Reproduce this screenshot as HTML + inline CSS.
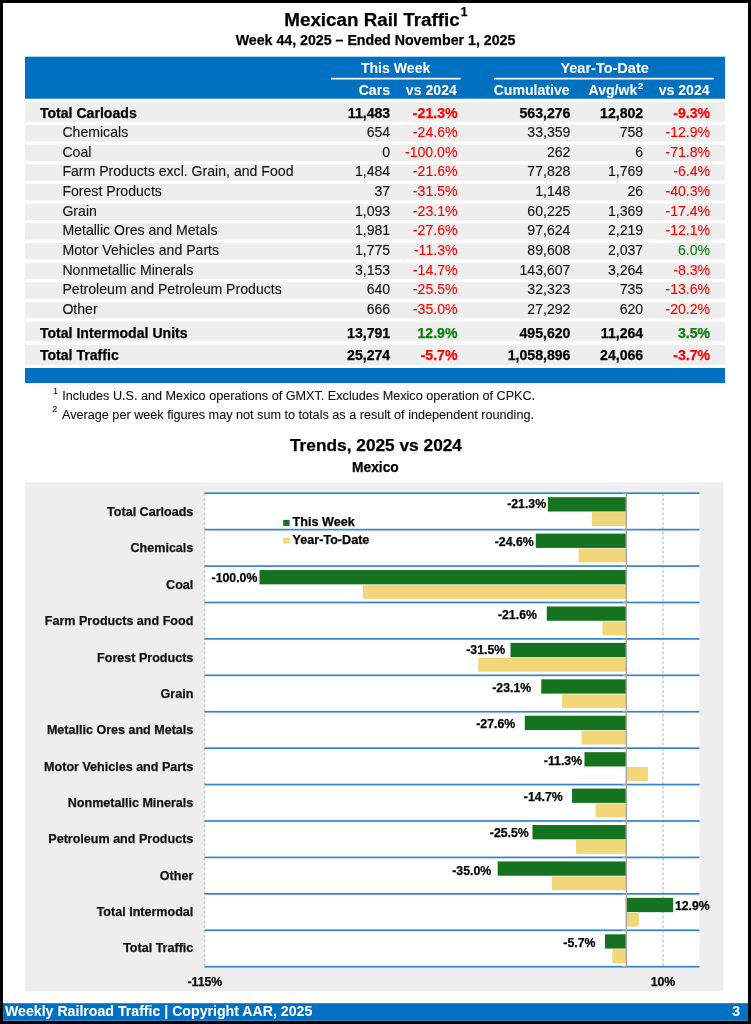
<!DOCTYPE html>
<html><head><meta charset="utf-8"><title>Mexican Rail Traffic</title>
<style>
html,body{margin:0;padding:0;background:#fff;}
body{width:751px;height:1024px;position:relative;overflow:hidden;font-family:"Liberation Sans",sans-serif;}
.t{position:absolute;white-space:nowrap;-webkit-text-stroke:0.1px currentColor;}
.b{font-weight:bold;-webkit-text-stroke:0.25px currentColor;}
.w{-webkit-text-stroke:0.05px currentColor;}
.wrap{position:absolute;left:0;top:0;width:751px;height:1024px;will-change:transform;}
.sv{position:absolute;left:0;top:0;}
.page{position:absolute;left:0;top:0;width:751px;height:1024px;}
.s1{font-size:12px;vertical-align:0;position:relative;top:-9.6px;line-height:0;margin-left:1px;}
.s2{font-size:9.5px;vertical-align:0;position:relative;top:-6px;line-height:0;margin-left:0.6px;}
.frame{position:absolute;left:0;top:0;width:751px;height:1024px;box-sizing:border-box;border:3px solid #000;pointer-events:none;}
</style></head><body>
<div class="page">
<svg class="sv" width="751" height="1024" viewBox="0 0 751 1024"><rect x="25.00" y="56.70" width="700.00" height="42.00" fill="#0070C0"/>
<rect x="331.00" y="77.80" width="129.60" height="1.70" fill="#fff"/>
<rect x="494.00" y="77.80" width="219.70" height="1.70" fill="#fff"/>
<rect x="25.00" y="102.00" width="700.00" height="19.80" fill="#EEEEEE"/>
<rect x="25.00" y="125.00" width="700.00" height="16.40" fill="#EEEEEE"/>
<rect x="25.00" y="144.66" width="700.00" height="16.40" fill="#EEEEEE"/>
<rect x="25.00" y="164.32" width="700.00" height="16.40" fill="#EEEEEE"/>
<rect x="25.00" y="183.98" width="700.00" height="16.40" fill="#EEEEEE"/>
<rect x="25.00" y="203.64" width="700.00" height="16.40" fill="#EEEEEE"/>
<rect x="25.00" y="223.30" width="700.00" height="16.40" fill="#EEEEEE"/>
<rect x="25.00" y="242.96" width="700.00" height="16.40" fill="#EEEEEE"/>
<rect x="25.00" y="262.62" width="700.00" height="16.40" fill="#EEEEEE"/>
<rect x="25.00" y="282.28" width="700.00" height="16.40" fill="#EEEEEE"/>
<rect x="25.00" y="301.94" width="700.00" height="16.40" fill="#EEEEEE"/>
<rect x="25.00" y="321.70" width="700.00" height="19.50" fill="#EEEEEE"/>
<rect x="25.00" y="344.90" width="700.00" height="20.00" fill="#EEEEEE"/>
<rect x="25.00" y="368.00" width="700.00" height="15.00" fill="#0070C0"/>
<rect x="25.00" y="482.40" width="698.60" height="509.20" fill="#EEEEEE"/>
<rect x="204.50" y="493.20" width="495.00" height="473.50" fill="#fff"/>
<line x1="204.50" y1="493.20" x2="204.50" y2="966.70" stroke="#cdcdcd" stroke-width="1.6" stroke-dasharray="2.8 2"/>
<line x1="662.94" y1="493.20" x2="662.94" y2="966.70" stroke="#cdcdcd" stroke-width="1.6" stroke-dasharray="2.8 2"/>
<rect x="547.86" y="497.20" width="78.04" height="14.30" fill="#15721F"/>
<rect x="591.82" y="512.10" width="34.08" height="13.90" fill="#F2D67A"/>
<rect x="535.77" y="533.62" width="90.13" height="14.30" fill="#15721F"/>
<rect x="578.63" y="548.52" width="47.27" height="13.90" fill="#F2D67A"/>
<rect x="259.50" y="570.05" width="366.40" height="14.30" fill="#15721F"/>
<rect x="362.82" y="584.95" width="263.08" height="13.90" fill="#F2D67A"/>
<rect x="546.76" y="606.47" width="79.14" height="14.30" fill="#15721F"/>
<rect x="602.45" y="621.37" width="23.45" height="13.90" fill="#F2D67A"/>
<rect x="510.48" y="642.89" width="115.42" height="14.30" fill="#15721F"/>
<rect x="478.24" y="657.79" width="147.66" height="13.90" fill="#F2D67A"/>
<rect x="541.26" y="679.32" width="84.64" height="14.30" fill="#15721F"/>
<rect x="562.15" y="694.22" width="63.75" height="13.90" fill="#F2D67A"/>
<rect x="524.77" y="715.74" width="101.13" height="14.30" fill="#15721F"/>
<rect x="581.57" y="730.64" width="44.33" height="13.90" fill="#F2D67A"/>
<rect x="584.50" y="752.16" width="41.40" height="14.30" fill="#15721F"/>
<rect x="625.90" y="767.06" width="21.98" height="13.90" fill="#F2D67A"/>
<rect x="572.04" y="788.58" width="53.86" height="14.30" fill="#15721F"/>
<rect x="595.49" y="803.48" width="30.41" height="13.90" fill="#F2D67A"/>
<rect x="532.47" y="825.01" width="93.43" height="14.30" fill="#15721F"/>
<rect x="576.07" y="839.91" width="49.83" height="13.90" fill="#F2D67A"/>
<rect x="497.66" y="861.43" width="128.24" height="14.30" fill="#15721F"/>
<rect x="551.89" y="876.33" width="74.01" height="13.90" fill="#F2D67A"/>
<rect x="625.90" y="897.85" width="47.27" height="14.30" fill="#15721F"/>
<rect x="625.90" y="912.75" width="12.82" height="13.90" fill="#F2D67A"/>
<rect x="605.02" y="934.28" width="20.88" height="14.30" fill="#15721F"/>
<rect x="612.34" y="949.18" width="13.56" height="13.90" fill="#F2D67A"/>
<rect x="204.50" y="492.35" width="495.00" height="1.70" fill="#3383D1"/>
<rect x="622.70" y="492.60" width="3.20" height="1.20" fill="#a0a0a0"/>
<rect x="204.50" y="528.77" width="495.00" height="1.70" fill="#3383D1"/>
<rect x="622.70" y="529.02" width="3.20" height="1.20" fill="#a0a0a0"/>
<rect x="204.50" y="565.20" width="495.00" height="1.70" fill="#3383D1"/>
<rect x="622.70" y="565.45" width="3.20" height="1.20" fill="#a0a0a0"/>
<rect x="204.50" y="601.62" width="495.00" height="1.70" fill="#3383D1"/>
<rect x="622.70" y="601.87" width="3.20" height="1.20" fill="#a0a0a0"/>
<rect x="204.50" y="638.04" width="495.00" height="1.70" fill="#3383D1"/>
<rect x="622.70" y="638.29" width="3.20" height="1.20" fill="#a0a0a0"/>
<rect x="204.50" y="674.47" width="495.00" height="1.70" fill="#3383D1"/>
<rect x="622.70" y="674.72" width="3.20" height="1.20" fill="#a0a0a0"/>
<rect x="204.50" y="710.89" width="495.00" height="1.70" fill="#3383D1"/>
<rect x="622.70" y="711.14" width="3.20" height="1.20" fill="#a0a0a0"/>
<rect x="204.50" y="747.31" width="495.00" height="1.70" fill="#3383D1"/>
<rect x="622.70" y="747.56" width="3.20" height="1.20" fill="#a0a0a0"/>
<rect x="204.50" y="783.73" width="495.00" height="1.70" fill="#3383D1"/>
<rect x="622.70" y="783.98" width="3.20" height="1.20" fill="#a0a0a0"/>
<rect x="204.50" y="820.16" width="495.00" height="1.70" fill="#3383D1"/>
<rect x="622.70" y="820.41" width="3.20" height="1.20" fill="#a0a0a0"/>
<rect x="204.50" y="856.58" width="495.00" height="1.70" fill="#3383D1"/>
<rect x="622.70" y="856.83" width="3.20" height="1.20" fill="#a0a0a0"/>
<rect x="204.50" y="893.00" width="495.00" height="1.70" fill="#3383D1"/>
<rect x="622.70" y="893.25" width="3.20" height="1.20" fill="#a0a0a0"/>
<rect x="204.50" y="929.43" width="495.00" height="1.70" fill="#3383D1"/>
<rect x="622.70" y="929.68" width="3.20" height="1.20" fill="#a0a0a0"/>
<rect x="204.50" y="965.85" width="495.00" height="1.70" fill="#3383D1"/>
<rect x="622.70" y="966.10" width="3.20" height="1.20" fill="#a0a0a0"/>
<rect x="625.60" y="493.20" width="1.50" height="473.50" fill="#a6a6a6"/>
<rect x="283.20" y="519.90" width="6.40" height="6.00" fill="#15721F"/>
<rect x="283.20" y="537.80" width="6.40" height="5.80" fill="#F2D67A"/>
<rect x="3.00" y="1003.20" width="745.00" height="17.60" fill="#0070C0"/></svg>
<div class="wrap">
<div class="t b" style="left:284.30px;top:11.09px;font-size:18.8px;line-height:18.8px;color:#000;">Mexican Rail Traffic<sup class="s1">1</sup></div>
<div class="t b" style="left:-24.50px;width:800px;text-align:center;top:32.98px;font-size:14.2px;line-height:14.2px;color:#000;">Week 44, 2025 &ndash; Ended November 1, 2025</div>
<div class="t b w" style="left:-4.40px;width:800px;text-align:center;top:60.86px;font-size:14.1px;line-height:14.1px;color:#fff;">This Week</div>
<div class="t b w" style="left:204.60px;width:800px;text-align:center;top:60.53px;font-size:14.5px;line-height:14.5px;color:#fff;">Year-To-Date</div>
<div class="t b w" style="right:361.00px;top:82.86px;font-size:14.1px;line-height:14.1px;color:#fff;">Cars</div>
<div class="t b w" style="right:294.20px;top:82.86px;font-size:14.1px;line-height:14.1px;color:#fff;">vs 2024</div>
<div class="t b w" style="right:181.40px;top:82.86px;font-size:14.1px;line-height:14.1px;color:#fff;">Cumulative</div>
<div class="t b w" style="right:107.80px;top:82.86px;font-size:14.1px;line-height:14.1px;color:#fff;">Avg/wk<sup class="s2">2</sup></div>
<div class="t b w" style="right:41.40px;top:82.86px;font-size:14.1px;line-height:14.1px;color:#fff;">vs 2024</div>
<div class="t b" style="left:39.90px;top:105.96px;font-size:14.1px;line-height:14.1px;color:#000;">Total Carloads</div>
<div class="t b" style="right:360.80px;top:105.96px;font-size:14.1px;line-height:14.1px;color:#000;">11,483</div>
<div class="t b" style="right:293.50px;top:105.96px;font-size:14.1px;line-height:14.1px;color:#FF0000;">-21.3%</div>
<div class="t b" style="right:180.60px;top:105.96px;font-size:14.1px;line-height:14.1px;color:#000;">563,276</div>
<div class="t b" style="right:107.80px;top:105.96px;font-size:14.1px;line-height:14.1px;color:#000;">12,802</div>
<div class="t b" style="right:40.90px;top:105.96px;font-size:14.1px;line-height:14.1px;color:#FF0000;">-9.3%</div>
<div class="t" style="left:62.40px;top:125.16px;font-size:14.1px;line-height:14.1px;color:#111;">Chemicals</div>
<div class="t" style="right:360.80px;top:125.16px;font-size:14.1px;line-height:14.1px;color:#111;">654</div>
<div class="t" style="right:293.50px;top:125.16px;font-size:14.1px;line-height:14.1px;color:#FF0000;">-24.6%</div>
<div class="t" style="right:180.60px;top:125.16px;font-size:14.1px;line-height:14.1px;color:#111;">33,359</div>
<div class="t" style="right:107.80px;top:125.16px;font-size:14.1px;line-height:14.1px;color:#111;">758</div>
<div class="t" style="right:40.90px;top:125.16px;font-size:14.1px;line-height:14.1px;color:#FF0000;">-12.9%</div>
<div class="t" style="left:62.40px;top:144.82px;font-size:14.1px;line-height:14.1px;color:#111;">Coal</div>
<div class="t" style="right:360.80px;top:144.82px;font-size:14.1px;line-height:14.1px;color:#111;">0</div>
<div class="t" style="right:293.50px;top:144.82px;font-size:14.1px;line-height:14.1px;color:#FF0000;">-100.0%</div>
<div class="t" style="right:180.60px;top:144.82px;font-size:14.1px;line-height:14.1px;color:#111;">262</div>
<div class="t" style="right:107.80px;top:144.82px;font-size:14.1px;line-height:14.1px;color:#111;">6</div>
<div class="t" style="right:40.90px;top:144.82px;font-size:14.1px;line-height:14.1px;color:#FF0000;">-71.8%</div>
<div class="t" style="left:62.40px;top:164.48px;font-size:14.1px;line-height:14.1px;color:#111;">Farm Products excl. Grain, and Food</div>
<div class="t" style="right:360.80px;top:164.48px;font-size:14.1px;line-height:14.1px;color:#111;">1,484</div>
<div class="t" style="right:293.50px;top:164.48px;font-size:14.1px;line-height:14.1px;color:#FF0000;">-21.6%</div>
<div class="t" style="right:180.60px;top:164.48px;font-size:14.1px;line-height:14.1px;color:#111;">77,828</div>
<div class="t" style="right:107.80px;top:164.48px;font-size:14.1px;line-height:14.1px;color:#111;">1,769</div>
<div class="t" style="right:40.90px;top:164.48px;font-size:14.1px;line-height:14.1px;color:#FF0000;">-6.4%</div>
<div class="t" style="left:62.40px;top:184.14px;font-size:14.1px;line-height:14.1px;color:#111;">Forest Products</div>
<div class="t" style="right:360.80px;top:184.14px;font-size:14.1px;line-height:14.1px;color:#111;">37</div>
<div class="t" style="right:293.50px;top:184.14px;font-size:14.1px;line-height:14.1px;color:#FF0000;">-31.5%</div>
<div class="t" style="right:180.60px;top:184.14px;font-size:14.1px;line-height:14.1px;color:#111;">1,148</div>
<div class="t" style="right:107.80px;top:184.14px;font-size:14.1px;line-height:14.1px;color:#111;">26</div>
<div class="t" style="right:40.90px;top:184.14px;font-size:14.1px;line-height:14.1px;color:#FF0000;">-40.3%</div>
<div class="t" style="left:62.40px;top:203.80px;font-size:14.1px;line-height:14.1px;color:#111;">Grain</div>
<div class="t" style="right:360.80px;top:203.80px;font-size:14.1px;line-height:14.1px;color:#111;">1,093</div>
<div class="t" style="right:293.50px;top:203.80px;font-size:14.1px;line-height:14.1px;color:#FF0000;">-23.1%</div>
<div class="t" style="right:180.60px;top:203.80px;font-size:14.1px;line-height:14.1px;color:#111;">60,225</div>
<div class="t" style="right:107.80px;top:203.80px;font-size:14.1px;line-height:14.1px;color:#111;">1,369</div>
<div class="t" style="right:40.90px;top:203.80px;font-size:14.1px;line-height:14.1px;color:#FF0000;">-17.4%</div>
<div class="t" style="left:62.40px;top:223.46px;font-size:14.1px;line-height:14.1px;color:#111;">Metallic Ores and Metals</div>
<div class="t" style="right:360.80px;top:223.46px;font-size:14.1px;line-height:14.1px;color:#111;">1,981</div>
<div class="t" style="right:293.50px;top:223.46px;font-size:14.1px;line-height:14.1px;color:#FF0000;">-27.6%</div>
<div class="t" style="right:180.60px;top:223.46px;font-size:14.1px;line-height:14.1px;color:#111;">97,624</div>
<div class="t" style="right:107.80px;top:223.46px;font-size:14.1px;line-height:14.1px;color:#111;">2,219</div>
<div class="t" style="right:40.90px;top:223.46px;font-size:14.1px;line-height:14.1px;color:#FF0000;">-12.1%</div>
<div class="t" style="left:62.40px;top:243.12px;font-size:14.1px;line-height:14.1px;color:#111;">Motor Vehicles and Parts</div>
<div class="t" style="right:360.80px;top:243.12px;font-size:14.1px;line-height:14.1px;color:#111;">1,775</div>
<div class="t" style="right:293.50px;top:243.12px;font-size:14.1px;line-height:14.1px;color:#FF0000;">-11.3%</div>
<div class="t" style="right:180.60px;top:243.12px;font-size:14.1px;line-height:14.1px;color:#111;">89,608</div>
<div class="t" style="right:107.80px;top:243.12px;font-size:14.1px;line-height:14.1px;color:#111;">2,037</div>
<div class="t" style="right:40.90px;top:243.12px;font-size:14.1px;line-height:14.1px;color:#0A7D0A;">6.0%</div>
<div class="t" style="left:62.40px;top:262.78px;font-size:14.1px;line-height:14.1px;color:#111;">Nonmetallic Minerals</div>
<div class="t" style="right:360.80px;top:262.78px;font-size:14.1px;line-height:14.1px;color:#111;">3,153</div>
<div class="t" style="right:293.50px;top:262.78px;font-size:14.1px;line-height:14.1px;color:#FF0000;">-14.7%</div>
<div class="t" style="right:180.60px;top:262.78px;font-size:14.1px;line-height:14.1px;color:#111;">143,607</div>
<div class="t" style="right:107.80px;top:262.78px;font-size:14.1px;line-height:14.1px;color:#111;">3,264</div>
<div class="t" style="right:40.90px;top:262.78px;font-size:14.1px;line-height:14.1px;color:#FF0000;">-8.3%</div>
<div class="t" style="left:62.40px;top:282.44px;font-size:14.1px;line-height:14.1px;color:#111;">Petroleum and Petroleum Products</div>
<div class="t" style="right:360.80px;top:282.44px;font-size:14.1px;line-height:14.1px;color:#111;">640</div>
<div class="t" style="right:293.50px;top:282.44px;font-size:14.1px;line-height:14.1px;color:#FF0000;">-25.5%</div>
<div class="t" style="right:180.60px;top:282.44px;font-size:14.1px;line-height:14.1px;color:#111;">32,323</div>
<div class="t" style="right:107.80px;top:282.44px;font-size:14.1px;line-height:14.1px;color:#111;">735</div>
<div class="t" style="right:40.90px;top:282.44px;font-size:14.1px;line-height:14.1px;color:#FF0000;">-13.6%</div>
<div class="t" style="left:62.40px;top:302.10px;font-size:14.1px;line-height:14.1px;color:#111;">Other</div>
<div class="t" style="right:360.80px;top:302.10px;font-size:14.1px;line-height:14.1px;color:#111;">666</div>
<div class="t" style="right:293.50px;top:302.10px;font-size:14.1px;line-height:14.1px;color:#FF0000;">-35.0%</div>
<div class="t" style="right:180.60px;top:302.10px;font-size:14.1px;line-height:14.1px;color:#111;">27,292</div>
<div class="t" style="right:107.80px;top:302.10px;font-size:14.1px;line-height:14.1px;color:#111;">620</div>
<div class="t" style="right:40.90px;top:302.10px;font-size:14.1px;line-height:14.1px;color:#FF0000;">-20.2%</div>
<div class="t b" style="left:39.90px;top:325.96px;font-size:14.1px;line-height:14.1px;color:#000;">Total Intermodal Units</div>
<div class="t b" style="right:360.80px;top:325.96px;font-size:14.1px;line-height:14.1px;color:#000;">13,791</div>
<div class="t b" style="right:293.50px;top:325.96px;font-size:14.1px;line-height:14.1px;color:#0A7D0A;">12.9%</div>
<div class="t b" style="right:180.60px;top:325.96px;font-size:14.1px;line-height:14.1px;color:#000;">495,620</div>
<div class="t b" style="right:107.80px;top:325.96px;font-size:14.1px;line-height:14.1px;color:#000;">11,264</div>
<div class="t b" style="right:40.90px;top:325.96px;font-size:14.1px;line-height:14.1px;color:#0A7D0A;">3.5%</div>
<div class="t b" style="left:39.90px;top:348.26px;font-size:14.1px;line-height:14.1px;color:#000;">Total Traffic</div>
<div class="t b" style="right:360.80px;top:348.26px;font-size:14.1px;line-height:14.1px;color:#000;">25,274</div>
<div class="t b" style="right:293.50px;top:348.26px;font-size:14.1px;line-height:14.1px;color:#FF0000;">-5.7%</div>
<div class="t b" style="right:180.60px;top:348.26px;font-size:14.1px;line-height:14.1px;color:#000;">1,058,896</div>
<div class="t b" style="right:107.80px;top:348.26px;font-size:14.1px;line-height:14.1px;color:#000;">24,066</div>
<div class="t b" style="right:40.90px;top:348.26px;font-size:14.1px;line-height:14.1px;color:#FF0000;">-3.7%</div>
<div class="t" style="left:53.00px;top:387.38px;font-size:9px;line-height:9px;color:#111;">1</div>
<div class="t" style="left:62.30px;top:390.29px;font-size:12.65px;line-height:12.65px;color:#111;">Includes U.S. and Mexico operations of GMXT. Excludes Mexico operation of CPKC.</div>
<div class="t" style="left:52.30px;top:405.48px;font-size:9px;line-height:9px;color:#111;">2</div>
<div class="t" style="left:62.00px;top:408.79px;font-size:12.65px;line-height:12.65px;color:#111;">Average per week figures may not sum to totals as a result of independent rounding.</div>
<div class="t b" style="left:-24.00px;width:800px;text-align:center;top:436.66px;font-size:17.3px;line-height:17.3px;color:#000;">Trends, 2025 vs 2024</div>
<div class="t b" style="left:-24.60px;width:800px;text-align:center;top:460.62px;font-size:13.8px;line-height:13.8px;color:#000;">Mexico</div>
<div class="t b" style="right:204.90px;top:498.34px;font-size:12.3px;line-height:12.3px;color:#000;">-21.3%</div>
<div class="t b" style="right:557.70px;top:505.89px;font-size:12.55px;line-height:12.55px;color:#111;">Total Carloads</div>
<div class="t b" style="right:217.30px;top:535.79px;font-size:12.3px;line-height:12.3px;color:#000;">-24.6%</div>
<div class="t b" style="right:557.70px;top:542.31px;font-size:12.55px;line-height:12.55px;color:#111;">Chemicals</div>
<div class="t b" style="right:493.60px;top:571.64px;font-size:12.3px;line-height:12.3px;color:#000;">-100.0%</div>
<div class="t b" style="right:557.70px;top:578.73px;font-size:12.55px;line-height:12.55px;color:#111;">Coal</div>
<div class="t b" style="right:214.10px;top:608.64px;font-size:12.3px;line-height:12.3px;color:#000;">-21.6%</div>
<div class="t b" style="right:557.70px;top:615.16px;font-size:12.55px;line-height:12.55px;color:#111;">Farm Products and Food</div>
<div class="t b" style="right:245.80px;top:643.89px;font-size:12.3px;line-height:12.3px;color:#000;">-31.5%</div>
<div class="t b" style="right:557.70px;top:651.58px;font-size:12.55px;line-height:12.55px;color:#111;">Forest Products</div>
<div class="t b" style="right:219.80px;top:681.94px;font-size:12.3px;line-height:12.3px;color:#000;">-23.1%</div>
<div class="t b" style="right:557.70px;top:688.00px;font-size:12.55px;line-height:12.55px;color:#111;">Grain</div>
<div class="t b" style="right:235.80px;top:718.09px;font-size:12.3px;line-height:12.3px;color:#000;">-27.6%</div>
<div class="t b" style="right:557.70px;top:724.43px;font-size:12.55px;line-height:12.55px;color:#111;">Metallic Ores and Metals</div>
<div class="t b" style="right:168.90px;top:755.19px;font-size:12.3px;line-height:12.3px;color:#000;">-11.3%</div>
<div class="t b" style="right:557.70px;top:760.85px;font-size:12.55px;line-height:12.55px;color:#111;">Motor Vehicles and Parts</div>
<div class="t b" style="right:188.20px;top:791.49px;font-size:12.3px;line-height:12.3px;color:#000;">-14.7%</div>
<div class="t b" style="right:557.70px;top:797.27px;font-size:12.55px;line-height:12.55px;color:#111;">Nonmetallic Minerals</div>
<div class="t b" style="right:222.20px;top:827.19px;font-size:12.3px;line-height:12.3px;color:#000;">-25.5%</div>
<div class="t b" style="right:557.70px;top:832.90px;font-size:12.55px;line-height:12.55px;color:#111;">Petroleum and Products</div>
<div class="t b" style="right:259.80px;top:864.69px;font-size:12.3px;line-height:12.3px;color:#000;">-35.0%</div>
<div class="t b" style="right:557.70px;top:870.12px;font-size:12.55px;line-height:12.55px;color:#111;">Other</div>
<div class="t b" style="left:674.90px;top:900.24px;font-size:12.3px;line-height:12.3px;color:#000;">12.9%</div>
<div class="t b" style="right:557.70px;top:905.54px;font-size:12.55px;line-height:12.55px;color:#111;">Total Intermodal</div>
<div class="t b" style="right:155.60px;top:937.04px;font-size:12.3px;line-height:12.3px;color:#000;">-5.7%</div>
<div class="t b" style="right:557.70px;top:942.26px;font-size:12.55px;line-height:12.55px;color:#111;">Total Traffic</div>
<div class="t b" style="left:292.60px;top:516.13px;font-size:12.6px;line-height:12.6px;color:#000;">This Week</div>
<div class="t b" style="left:292.60px;top:534.23px;font-size:12.6px;line-height:12.6px;color:#000;">Year-To-Date</div>
<div class="t b" style="left:-195.20px;width:800px;text-align:center;top:976.19px;font-size:12.3px;line-height:12.3px;color:#000;">-115%</div>
<div class="t b" style="left:263.00px;width:800px;text-align:center;top:976.19px;font-size:12.3px;line-height:12.3px;color:#000;">10%</div>
<div class="t b w" style="left:5.00px;top:1004.42px;font-size:14.15px;line-height:14.15px;color:#fff;">Weekly Railroad Traffic | Copyright AAR, 2025</div>
<div class="t b w" style="right:10.80px;top:1004.42px;font-size:14.15px;line-height:14.15px;color:#fff;">3</div>
</div>
<div class="frame"></div>
</div>
</body></html>
